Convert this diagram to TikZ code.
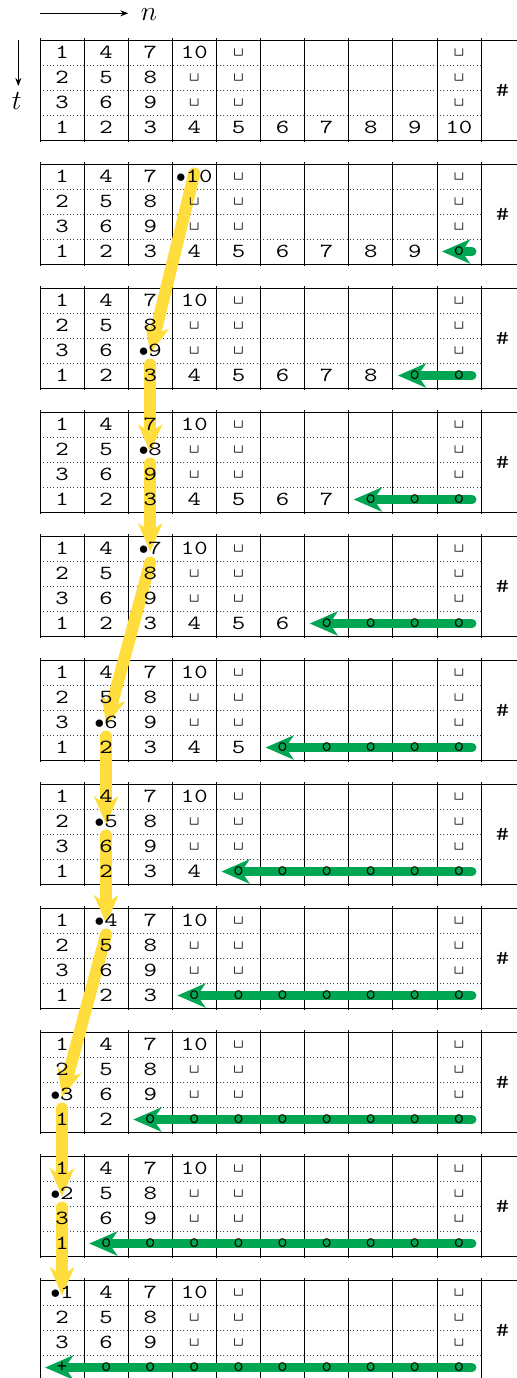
\documentclass[tikz,border=0pt]{standalone}
\usepackage{graphicx}
\usetikzlibrary{arrows.meta,calc}
\definecolor{hlyellow}{RGB}{255,221,60}
\definecolor{hlgreen}{RGB}{0,166,81}
\pgfdeclarelayer{gridlayer}
\pgfdeclarelayer{arrowlayer}
\pgfsetlayers{gridlayer,arrowlayer,main}
\newcommand\vs{\textvisiblespace}
\newcommand\sx[1]{\scalebox{1.3}[1]{#1}}
\newcommand\bulif[2]{\ifnum\numexpr11-#1\relax=\numexpr#2\relax $\bullet$\sx{#2}\else \sx{#2}\fi}
\newcommand\celltext[3]{%
  \ifnum#2<3
    \ifnum#3<3 \bulif{#1}{\the\numexpr3*#3+#2+1\relax}\else
    \ifnum#3=3 \ifnum#2=0 \bulif{#1}{10}\else\vs\fi\else
    \ifnum#3=4 \vs\else
    \ifnum#3=9 \vs\fi\fi\fi\fi
  \else
    \ifnum#1=0 \sx{\the\numexpr#3+1\relax}\else
    \ifnum#3<\numexpr10-#1\relax \sx{\the\numexpr#3+1\relax}\else
    \ifnum#3=0 +\else o\fi\fi\fi
  \fi}
\begin{document}
\begin{tikzpicture}[x=0.75pt,y=-0.75pt,
  cell/.style={inner sep=0pt, minimum width=33pt, minimum height=18.75pt,
    font=\ttfamily\fontsize{15}{18}\selectfont},
  solidline/.style={line width=0.5pt, black},
  dotline/.style={dotted, line width=0.5pt, black!75},
  yarrow/.style={line width=9pt, hlyellow, line cap=round,
    -{Stealth[length=21pt,width=18pt,inset=6pt]}},
  garrow/.style={line width=6.75pt, hlgreen, line cap=round,
    -{Stealth[length=21pt,width=18pt,inset=6pt]}},
  axisarrow/.style={line width=0.7pt, -{Stealth[length=6pt,width=4.5pt]}},
  axislabel/.style={inner sep=0pt, font=\fontsize{20}{24}\selectfont}]
\useasboundingbox (0,0) rectangle (517,1378);
\clip (0,0) rectangle (517,1378);

% axes
\coordinate (nstart) at (40,13.3);
\coordinate (nend) at (128.3,13.3);
\node[axislabel] (nlab) at (149,15) {$n$};
\draw[axisarrow] (nstart) -- (nend);
\coordinate (tstart) at (18.3,40);
\coordinate (tend) at (18.3,86);
\node[axislabel] (tlab) at (16.7,101) {$t$};
\draw[axisarrow] (tstart) -- (tend);

% grid
\begin{pgfonlayer}{gridlayer}
\foreach \k in {0,...,10}{
  \draw[solidline] (40,{40+124*\k}) -- (530,{40+124*\k});
  \draw[solidline] (40,{140+124*\k}) -- (530,{140+124*\k});
  \foreach \r in {1,2,3}
    \draw[dotline] (40,{40+124*\k+25*\r}) -- (483,{40+124*\k+25*\r});
  \foreach \c in {0,...,11}
    \draw[solidline] ({40+44.1*\c},{38+124*\k}) -- ({40+44.1*\c},{142+124*\k});
}
\end{pgfonlayer}

% cells
\foreach \k in {0,...,10}{
  \foreach \r in {0,...,3}{
    \foreach \c in {0,...,9}{
      \node[cell] (c-\k-\r-\c) at ({62.05+44.1*\c},{52.5+124*\k+25*\r}) {\celltext{\k}{\r}{\c}};
    }
  }
  \node[cell] (h-\k) at (502.6,{90+124*\k}) {\sx{\#}};
}

% yellow arrows (head path)
\begin{pgfonlayer}{arrowlayer}
\foreach \k in {1,...,10}{
  \pgfmathtruncatemacro\v{11-\k}
  \pgfmathtruncatemacro\cc{int((\v-1)/3)}
  \pgfmathtruncatemacro\rr{mod(\v-1,3)}
  \ifnum\k=1
    \coordinate (ys-\k) at ($(c-\k-\rr-\cc)+(0,-3)$);
  \else
    \coordinate (ys-\k) at ($(c-\k-\rr-\cc)+(0,14)$);
  \fi
  \coordinate (ye-\k) at ($(c-\k-\rr-\cc)+(0,3)$);
}
\foreach \k [evaluate=\k as \kn using int(\k+1)] in {1,...,9}{
  \draw[yarrow] (ys-\k) -- (ye-\kn);
}
% green arrows (tape)
\foreach \k in {1,...,10}{
  \pgfmathtruncatemacro\t{10-\k}
  \coordinate (gs-\k) at ($(c-\k-3-9)+(13,0)$);
  \coordinate (ge-\k) at ($(c-\k-3-\t)+(-17,0)$);
  \draw[garrow] (gs-\k) -- (ge-\k);
}
\end{pgfonlayer}
\end{tikzpicture}
\end{document}
